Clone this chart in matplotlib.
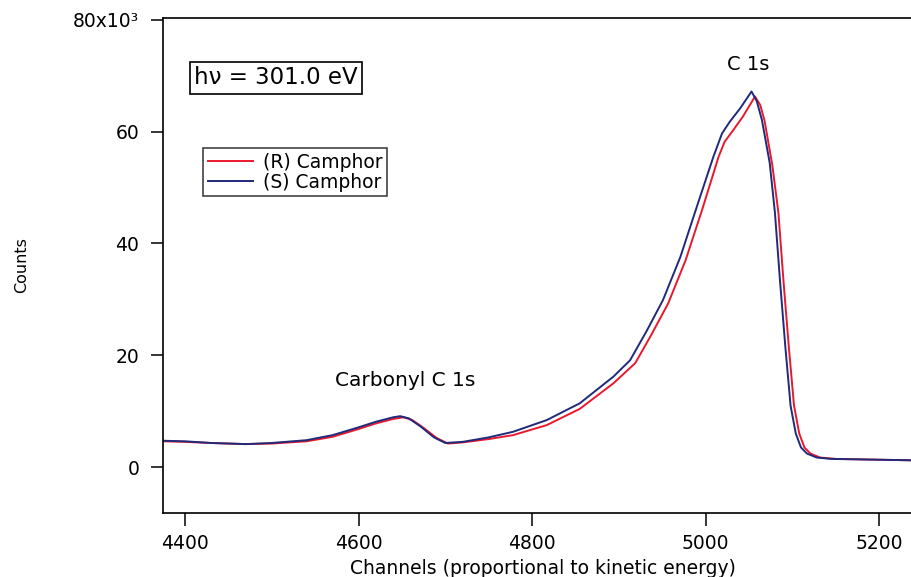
import matplotlib
matplotlib.use("Agg")
import matplotlib.pyplot as plt
from matplotlib.ticker import FixedLocator, FixedFormatter

# channel / counts (in thousands)
chan_r = [4375, 4400, 4430, 4470, 4500, 4540, 4570, 4600, 4620, 4640, 4652, 4662,
          4675, 4690, 4703, 4720, 4750, 4778, 4817, 4855, 4894, 4919, 4938, 4957,
          4977, 4996, 5015, 5022, 5032, 5043, 5057, 5063, 5068, 5077, 5084, 5090,
          5096, 5102, 5108, 5114, 5121, 5132, 5150, 5238]
counts_r = [4.6, 4.5, 4.3, 4.1, 4.2, 4.6, 5.4, 6.8, 7.8, 8.6, 8.9, 8.4,
            7.0, 5.2, 4.2, 4.4, 5.0, 5.7, 7.5, 10.4, 15.0, 18.6, 23.8, 29.3,
            37.0, 46.0, 55.5, 58.2, 60.3, 62.7, 66.3, 64.8, 62.0, 54.0, 45.5, 33.0,
            21.5, 11.0, 6.0, 3.5, 2.4, 1.7, 1.45, 1.2]

chan_s = [4375, 4400, 4430, 4470, 4500, 4540, 4570, 4600, 4620, 4640, 4648, 4658,
          4672, 4687, 4700, 4720, 4750, 4778, 4817, 4855, 4894, 4913, 4932, 4951,
          4971, 4990, 5009, 5019, 5028, 5040, 5053, 5059, 5065, 5074, 5080, 5086,
          5092, 5098, 5104, 5110, 5117, 5128, 5145, 5238]
counts_s = [4.7, 4.6, 4.3, 4.1, 4.3, 4.8, 5.7, 7.1, 8.1, 8.9, 9.1, 8.7,
            7.2, 5.3, 4.3, 4.5, 5.3, 6.3, 8.4, 11.4, 16.2, 19.1, 24.3, 29.9,
            37.6, 46.6, 55.5, 59.7, 61.8, 64.2, 67.2, 65.5, 62.1, 54.4, 45.5, 33.0,
            21.5, 11.0, 6.0, 3.5, 2.4, 1.7, 1.45, 1.2]

yticks = [0, 20, 40, 60, 80]
ytick_labels = ["0", "20", "40", "60", "80x10\u00b3"]
xticks = [4400, 4600, 4800, 5000, 5200]

plt.rcParams['font.family'] = ['DejaVu Sans']

fig = plt.figure(figsize=(9.12, 5.77), dpi=100)
W, H = 912, 577
ax = fig.add_axes([163 / W, 1 - 513 / H, 1 - 163 / W, (513 - 18.3) / H])

ax.plot(chan_r, [v * 1000 for v in counts_r], color='#e8192c', lw=1.4,
        label='(R) Camphor')
ax.plot(chan_s, [v * 1000 for v in counts_s], color='#202a7a', lw=1.4,
        label='(S) Camphor')

ax.set_xlim(4374.6, 5238)
ax.set_ylim(-8230, 80300)

ax.xaxis.set_major_locator(FixedLocator(xticks))
ax.yaxis.set_major_locator(FixedLocator([v * 1000 for v in yticks]))
ax.yaxis.set_major_formatter(FixedFormatter(ytick_labels))
ax.tick_params(direction='out', length=9, width=1.1, labelsize=13.5)
ax.tick_params(axis='y', pad=8)
ax.tick_params(axis='x', pad=6)

for side in ['left', 'bottom', 'top']:
    ax.spines[side].set_linewidth(1.2)
ax.spines['right'].set_visible(False)

fig.text(543 / W, 1 - 568 / H, 'Channels (proportional to kinetic energy)',
         ha='center', va='center', fontsize=13.5)
fig.text(22 / W, 1 - 265 / H, 'Counts', rotation=90, ha='center', va='center',
         fontsize=11.5)

fig.text(276 / W, 1 - 78 / H, 'h\u03bd = 301.0 eV', ha='center', va='center',
         fontsize=16.5,
         bbox=dict(boxstyle='square,pad=0.2', fc='white', ec='black', lw=1.2))
fig.text(748 / W, 1 - 65 / H, 'C 1s', ha='center', va='center', fontsize=14)
fig.text(405 / W, 1 - 380 / H, 'Carbonyl C 1s', ha='center', va='center', fontsize=14.5)

leg = ax.legend(loc='upper left', bbox_to_anchor=(203 / W, 1 - 148 / H),
                bbox_transform=fig.transFigure, fontsize=13.5, frameon=True,
                fancybox=False, borderaxespad=0, borderpad=0.25,
                handlelength=2.4, handletextpad=0.55, labelspacing=0.05)
leg.get_frame().set_edgecolor('black')
leg.get_frame().set_linewidth(1.1)

fig.savefig('out.png', dpi=100)
